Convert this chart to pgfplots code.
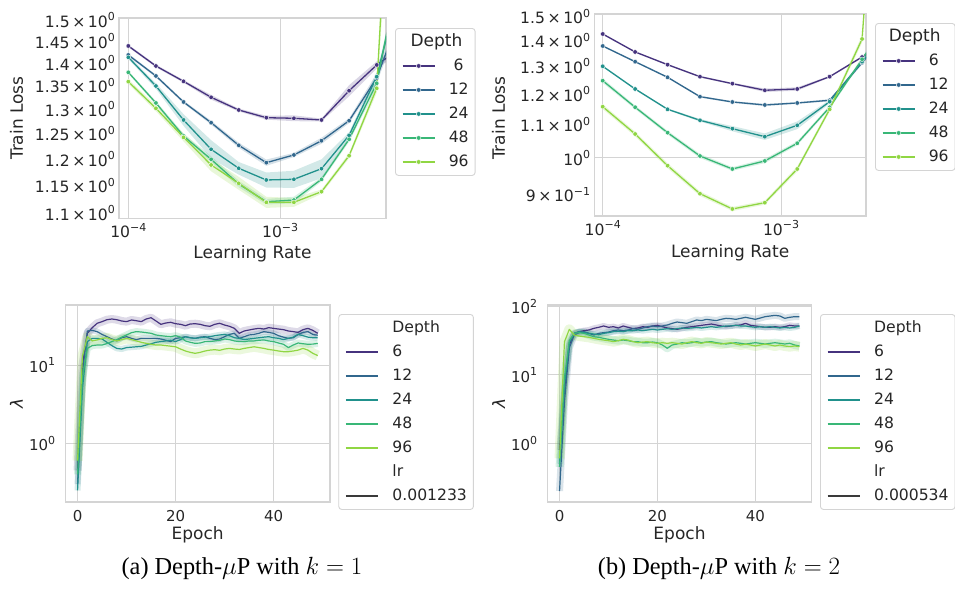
\documentclass[border=0pt]{standalone}
\usepackage{fontspec}
\setmainfont{DejaVu Sans}
\newfontfamily\capfont{Liberation Serif}
\usepackage{pgfplots}
\pgfplotsset{compat=1.18}
\usepackage{pgfplotstable}
\usepgfplotslibrary{fillbetween}

\definecolor{vA}{HTML}{46337E}
\definecolor{vB}{HTML}{31678D}
\definecolor{vC}{HTML}{21918C}
\definecolor{vD}{HTML}{39B777}
\definecolor{vE}{HTML}{90D643}
\definecolor{gridc}{HTML}{D4D4D4}
\definecolor{txt}{HTML}{262626}
\definecolor{lrc}{HTML}{3A3A3A}

\newcommand\tickfont{\fontsize{15.6}{18}\selectfont}
\newcommand\btickfont{\fontsize{15}{18}\selectfont}
\newcommand\labfont{\fontsize{17}{20}\selectfont}
\newcommand\legfont{\fontsize{15.6}{18}\selectfont}
\newcommand\titfont{\fontsize{17}{20}\selectfont}
\newcommand\sups[1]{\raisebox{0.42em}{\fontsize{11}{11}\selectfont #1}}

\pgfplotsset{
  sns/.style={
    scale only axis,
    axis line style={gridc, line width=1.2pt},
    major grid style={gridc, line width=1.0pt},
    major tick length=0pt, minor tick length=0pt,
    tick style={draw=none},
    tick label style={text=txt, inner sep=0pt},
    label style={text=txt, font=\labfont},
    legend style={draw=gridc, line width=0.9pt, rounded corners=3pt, fill=white,
      text=txt, font=\legfont, inner xsep=6.5pt, inner ysep=6pt,
      row sep=9pt, column sep=13.5pt,
      nodes={inner sep=0pt, text height=12.5pt, text depth=2.5pt}},
    legend image code/.code={\draw[mark repeat=2,mark phase=2,##1] plot coordinates {(0pt,0pt) (16pt,0pt) (32pt,0pt)};},
  },
  lineleg/.style={
    legend image code/.code={\draw[##1] (0pt,0pt) -- (32pt,0pt);},
  },
  topl/.style={color=#1, line width=1.3pt, mark=*, mark size=2.3pt,
    mark options={fill=#1, draw=white, line width=0.4pt, solid}},
  botl/.style={color=#1, line width=1.2pt, line join=round},
  band/.style={color=#1, line width=6pt, opacity=0.18, line join=round, forget plot},
}

% ---------- top left: train loss, k = 1 ----------
\pgfplotstableread{
x y lo hi
1.0e-4 1.4387 1.4357 1.4417
1.5199e-4 1.3931 1.3901 1.3961
2.3101e-4 1.3592 1.3562 1.3622
3.5112e-4 1.3247 1.3197 1.3297
5.3367e-4 1.2980 1.2950 1.3010
8.1113e-4 1.2820 1.2780 1.2860
1.23285e-3 1.2808 1.2748 1.2868
1.87382e-3 1.2773 1.2743 1.2803
2.84804e-3 1.3389 1.3269 1.3509
4.32876e-3 1.3954 1.3874 1.4034
6.57933e-3 1.4400 1.4300 1.4500
}\tlA
\pgfplotstableread{
x y lo hi
1.0e-4 1.4180 1.4150 1.4210
1.5199e-4 1.3709 1.3679 1.3739
2.3101e-4 1.3148 1.3118 1.3178
3.5112e-4 1.2718 1.2678 1.2758
5.3367e-4 1.2264 1.2214 1.2314
8.1113e-4 1.1926 1.1866 1.1986
1.23285e-3 1.2075 1.2035 1.2115
1.87382e-3 1.2354 1.2294 1.2414
2.84804e-3 1.2758 1.2708 1.2808
4.32876e-3 1.3666 1.3566 1.3766
6.57933e-3 1.5390 1.5190 1.5590
}\tlB
\pgfplotstableread{
x y lo hi
1.0e-4 1.4127 1.4087 1.4167
1.5199e-4 1.3490 1.3430 1.3550
2.3101e-4 1.2773 1.2653 1.2893
3.5112e-4 1.2185 1.2005 1.2365
5.3367e-4 1.1819 1.1699 1.1939
8.1113e-4 1.1599 1.1459 1.1739
1.23285e-3 1.1612 1.1452 1.1772
1.87382e-3 1.1811 1.1631 1.1991
2.84804e-3 1.2462 1.2402 1.2522
4.32876e-3 1.3693 1.3593 1.3793
6.57933e-3 1.6340 1.6140 1.6540
}\tlC
\pgfplotstableread{
x y lo hi
1.0e-4 1.3790 1.3760 1.3820
1.5199e-4 1.3127 1.3087 1.3167
2.3101e-4 1.2448 1.2398 1.2498
3.5112e-4 1.1990 1.1930 1.2050
5.3367e-4 1.1524 1.1464 1.1584
8.1113e-4 1.1201 1.1151 1.1251
1.23285e-3 1.1231 1.1171 1.1291
1.87382e-3 1.1612 1.1572 1.1652
2.84804e-3 1.2383 1.2333 1.2433
4.32876e-3 1.3549 1.3449 1.3649
6.57933e-3 1.6900 1.6700 1.7100
}\tlD
\pgfplotstableread{
x y lo hi
1.0e-4 1.3584 1.3534 1.3634
1.5199e-4 1.3015 1.2955 1.3075
2.3101e-4 1.2422 1.2342 1.2502
3.5112e-4 1.1882 1.1762 1.2002
5.3367e-4 1.1537 1.1417 1.1657
8.1113e-4 1.1190 1.1090 1.1290
1.23285e-3 1.1190 1.1110 1.1270
1.87382e-3 1.1383 1.1343 1.1423
2.84804e-3 1.2060 1.2010 1.2110
4.32876e-3 1.3441 1.3341 1.3541
6.57933e-3 3.0000 2.5000 3.5000
}\tlE

% ---------- top right: train loss, k = 2 ----------
\pgfplotstableread{
x y lo hi
1.0e-4 1.4260 1.4230 1.4290
1.5199e-4 1.3545 1.3515 1.3575
2.3101e-4 1.3061 1.3031 1.3091
3.5112e-4 1.2620 1.2590 1.2650
5.3367e-4 1.2370 1.2340 1.2400
8.1113e-4 1.2138 1.2078 1.2198
1.23285e-3 1.2183 1.2123 1.2243
1.87382e-3 1.2620 1.2590 1.2650
2.84804e-3 1.3350 1.3310 1.3390
4.32876e-3 1.4150 1.4050 1.4250
}\trA
\pgfplotstableread{
x y lo hi
1.0e-4 1.3778 1.3748 1.3808
1.5199e-4 1.3173 1.3143 1.3203
2.3101e-4 1.2598 1.2568 1.2628
3.5112e-4 1.1918 1.1888 1.1948
5.3367e-4 1.1738 1.1708 1.1768
8.1113e-4 1.1638 1.1598 1.1678
1.23285e-3 1.1705 1.1675 1.1735
1.87382e-3 1.1796 1.1756 1.1836
2.84804e-3 1.3136 1.3066 1.3206
4.32876e-3 1.4630 1.4530 1.4730
}\trB
\pgfplotstableread{
x y lo hi
1.0e-4 1.3001 1.2971 1.3031
1.5199e-4 1.2183 1.2153 1.2213
2.3101e-4 1.1496 1.1466 1.1526
3.5112e-4 1.1139 1.1099 1.1179
5.3367e-4 1.0875 1.0795 1.0955
8.1113e-4 1.0629 1.0529 1.0729
1.23285e-3 1.0981 1.0861 1.1101
1.87382e-3 1.1748 1.1688 1.1808
2.84804e-3 1.3173 1.3103 1.3243
4.32876e-3 1.4770 1.4670 1.4870
}\trC
\pgfplotstableread{
x y lo hi
1.0e-4 1.2476 1.2396 1.2556
1.5199e-4 1.1562 1.1502 1.1622
2.3101e-4 1.0751 1.0691 1.0811
3.5112e-4 1.0057 0.9997 1.0117
5.3367e-4 0.9690 0.9640 0.9740
8.1113e-4 0.9915 0.9855 0.9975
1.23285e-3 1.0430 1.0370 1.0490
1.87382e-3 1.1562 1.1502 1.1622
2.84804e-3 1.3265 1.3185 1.3345
4.32876e-3 1.5220 1.5100 1.5340
}\trD
\pgfplotstableread{
x y lo hi
1.0e-4 1.1581 1.1501 1.1661
1.5199e-4 1.0711 1.0641 1.0781
2.3101e-4 0.9782 0.9712 0.9852
3.5112e-4 0.9029 0.8969 0.9089
5.3367e-4 0.8642 0.8592 0.8692
8.1113e-4 0.8799 0.8749 0.8849
1.23285e-3 0.9690 0.9620 0.9760
1.87382e-3 1.1496 1.1416 1.1576
2.84804e-3 1.4058 1.3908 1.4208
4.32876e-3 5.0000 4.5000 5.5000
}\trE

% ---------- bottom left: lambda, k = 1, lr = 0.001233 ----------
\pgfplotstableread{
e d6 d12 d24 d48 d96
0 0.45 0.30 0.25 0.40 0.60
1 10.0 8.0 5.0 7.0 13.0
2 25.4 27.2 19.9 16.3 23.0
3 30.0 27.7 21.9 17.7 20.3
4 34.1 26.7 21.9 18.0 20.9
5 35.8 24.6 21.5 18.0 21.9
6 37.9 23.0 19.5 18.8 22.3
7 38.7 21.5 17.7 19.9 21.1
8 37.9 20.3 16.3 21.1 20.3
9 36.5 22.3 16.0 22.7 21.1
10 35.8 23.0 16.7 24.2 21.9
11 37.6 21.9 16.9 25.9 21.1
12 36.8 21.1 17.1 26.7 20.3
13 35.8 21.9 17.3 26.4 19.5
14 38.7 21.9 18.0 25.9 18.9
15 40.2 21.9 18.7 25.4 18.4
16 36.5 21.9 19.5 24.2 18.0
17 33.1 21.5 19.9 23.7 18.0
18 34.4 20.7 20.3 23.3 17.7
19 35.1 19.9 20.7 23.0 17.4
20 33.7 21.9 19.9 23.7 17.1
21 33.1 22.3 21.1 22.7 16.0
22 31.8 23.0 23.0 20.3 15.1
23 33.4 22.3 22.3 19.5 14.5
24 33.7 21.9 21.9 18.9 14.1
25 33.1 22.7 22.3 19.1 14.5
26 31.8 23.0 22.7 19.9 15.1
27 31.2 21.9 23.0 19.9 15.5
28 33.1 21.1 23.7 20.3 15.7
29 34.1 21.5 24.2 20.7 15.4
30 32.4 23.0 24.6 21.5 16.0
31 31.2 24.6 23.7 21.1 16.3
32 29.4 25.4 22.3 20.3 16.0
33 25.4 21.9 21.9 19.9 15.8
34 27.2 23.0 21.1 19.9 16.3
35 28.0 24.2 21.5 20.3 16.7
36 28.8 24.6 21.9 20.3 17.1
37 29.4 25.4 22.3 20.7 16.7
38 28.8 26.7 22.7 20.9 16.3
39 30.0 26.1 23.0 20.3 15.8
40 29.4 25.4 22.3 19.9 15.5
41 28.8 23.7 21.9 19.1 15.1
42 28.3 22.7 21.1 18.4 14.8
43 27.2 21.9 21.9 16.7 14.8
44 26.7 22.3 22.7 18.0 15.1
45 26.1 24.6 24.6 19.1 15.5
46 28.3 26.1 23.7 18.7 16.3
47 29.4 26.7 22.7 18.4 15.5
48 27.7 24.6 22.3 18.5 14.1
49 25.4 24.0 22.3 18.9 13.2
}\bl

% ---------- bottom right: lambda, k = 2, lr = 0.000534 ----------
\pgfplotstableread{
e d6 d12 d24 d48 d96
0 0.80 0.20 0.50 0.45 0.60
1 6.0 4.0 7.0 9.0 30.7
2 28.0 25.0 30.0 32.0 46.6
3 40.7 38.5 40.7 40.7 38.5
4 43.1 41.7 43.1 41.7 37.2
5 44.6 43.1 41.7 40.7 36.4
6 45.6 40.7 40.7 38.5 35.6
7 48.2 38.5 39.8 36.4 34.4
8 49.9 40.7 38.9 35.6 33.3
9 52.2 41.7 40.7 34.4 32.5
10 49.9 42.6 41.7 33.3 31.8
11 51.0 44.6 43.1 32.5 30.8
12 48.8 45.6 43.6 31.8 31.8
13 52.2 44.6 43.1 32.5 33.3
14 49.9 45.6 44.6 31.8 32.5
15 47.7 47.7 44.6 30.8 30.8
16 48.8 46.6 45.6 30.8 29.7
17 51.0 48.8 44.6 29.7 30.4
18 49.9 51.0 45.6 29.7 30.8
19 52.2 52.2 46.6 30.4 29.7
20 53.4 51.0 45.6 29.7 29.1
21 51.0 52.2 46.6 27.5 29.7
22 48.8 54.0 47.7 24.6 29.1
23 47.7 57.1 46.6 27.5 29.7
24 46.6 59.7 47.7 28.4 29.1
25 48.2 58.4 48.8 29.7 28.4
26 49.9 57.1 48.2 29.1 29.7
27 51.0 60.4 48.8 29.7 30.8
28 52.2 63.9 49.9 30.8 29.7
29 53.4 62.5 48.8 29.7 29.1
30 54.6 65.3 49.9 30.4 30.4
31 55.8 63.9 51.0 30.8 29.7
32 54.0 62.5 49.9 29.7 29.1
33 52.2 65.3 51.0 29.1 28.4
34 51.0 67.6 52.2 28.4 29.1
35 52.2 66.8 52.2 29.1 29.7
36 53.4 65.3 53.4 29.7 28.4
37 54.0 67.6 52.2 29.1 27.5
38 57.1 69.9 52.2 28.4 28.4
39 53.4 67.6 51.0 29.1 27.5
40 52.2 65.3 49.9 29.7 26.6
41 51.0 68.3 51.0 29.1 27.5
42 49.9 71.5 49.9 28.4 28.4
43 49.9 73.1 51.0 29.1 27.5
44 51.0 74.7 49.9 29.7 26.6
45 49.9 73.1 48.8 29.1 27.5
46 51.0 67.6 49.9 28.4 26.6
47 53.4 69.9 48.8 29.1 26.0
48 52.2 71.5 49.9 27.5 26.6
49 52.2 71.5 52.2 26.6 26.0
}\br

\begin{document}
\begin{tikzpicture}

% ================= TOP LEFT =================
\begin{axis}[sns,
  at={(119pt,-18pt)}, anchor=north west, width=267pt, height=200.3pt,
  xmode=log, ymode=log,
  xmin=8.68e-5, xmax=4.984e-3, ymin=1.0906, ymax=1.5048,
  xtick={1e-4,1e-3}, xticklabels={10\sups{−4},10\sups{−3}},
  ytick={1.1,1.15,1.2,1.25,1.3,1.35,1.4,1.45,1.5},
  yticklabels={1.1\,×\,10\sups{0},1.15\,×\,10\sups{0},1.2\,×\,10\sups{0},1.25\,×\,10\sups{0},1.3\,×\,10\sups{0},1.35\,×\,10\sups{0},1.4\,×\,10\sups{0},1.45\,×\,10\sups{0},1.5\,×\,10\sups{0}},
  xmajorgrids, ymajorgrids=false,
  tick label style={font=\tickfont},
  xticklabel style={anchor=base, yshift=-19.5pt},
  yticklabel style={anchor=east, xshift=-4pt},
  xlabel={Learning Rate}, ylabel={Train Loss},
  xlabel style={at={(axis description cs:0.5,0)}, anchor=base, yshift=-40pt},
  ylabel style={at={(axis description cs:-0.3596,0.5)}, anchor=base},
  legend style={at={(1,1)}, anchor=north west, xshift=9pt, yshift=-10pt},
  legend cell align=center,
]
\addplot[draw=none, forget plot, name path=tlAlo] table[x=x,y=lo]{\tlA};
\addplot[draw=none, forget plot, name path=tlAhi] table[x=x,y=hi]{\tlA};
\addplot[fill=vA, fill opacity=0.2, draw=none, forget plot] fill between[of=tlAlo and tlAhi];
\addplot[draw=none, forget plot, name path=tlBlo] table[x=x,y=lo]{\tlB};
\addplot[draw=none, forget plot, name path=tlBhi] table[x=x,y=hi]{\tlB};
\addplot[fill=vB, fill opacity=0.2, draw=none, forget plot] fill between[of=tlBlo and tlBhi];
\addplot[draw=none, forget plot, name path=tlClo] table[x=x,y=lo]{\tlC};
\addplot[draw=none, forget plot, name path=tlChi] table[x=x,y=hi]{\tlC};
\addplot[fill=vC, fill opacity=0.2, draw=none, forget plot] fill between[of=tlClo and tlChi];
\addplot[draw=none, forget plot, name path=tlDlo] table[x=x,y=lo]{\tlD};
\addplot[draw=none, forget plot, name path=tlDhi] table[x=x,y=hi]{\tlD};
\addplot[fill=vD, fill opacity=0.2, draw=none, forget plot] fill between[of=tlDlo and tlDhi];
\addplot[draw=none, forget plot, name path=tlElo] table[x=x,y=lo]{\tlE};
\addplot[draw=none, forget plot, name path=tlEhi] table[x=x,y=hi]{\tlE};
\addplot[fill=vE, fill opacity=0.2, draw=none, forget plot] fill between[of=tlElo and tlEhi];
\addlegendimage{empty legend}
\addlegendentry{\titfont\makebox[0pt][c]{\hspace*{-44.4pt}Depth}}
\addplot[topl=vA] table[x=x,y=y]{\tlA}; \addlegendentry{6}
\addplot[topl=vB] table[x=x,y=y]{\tlB}; \addlegendentry{12}
\addplot[topl=vC] table[x=x,y=y]{\tlC}; \addlegendentry{24}
\addplot[topl=vD] table[x=x,y=y]{\tlD}; \addlegendentry{48}
\addplot[topl=vE] table[x=x,y=y]{\tlE}; \addlegendentry{96}
\end{axis}

% ================= TOP RIGHT =================
\begin{axis}[sns,
  at={(594.3pt,-14pt)}, anchor=north west, width=271.7pt, height=202pt,
  xmode=log, ymode=log,
  xmin=8.97e-5, xmax=2.996e-3, ymin=0.847, ymax=1.510,
  xtick={1e-4,1e-3}, xticklabels={10\sups{−4},10\sups{−3}},
  ytick={0.9,1.1,1.2,1.3,1.4,1.5},
  yticklabels={9\,×\,10\sups{−1},1.1\,×\,10\sups{0},1.2\,×\,10\sups{0},1.3\,×\,10\sups{0},1.4\,×\,10\sups{0},1.5\,×\,10\sups{0}},
  extra y ticks={1}, extra y tick labels={10\sups{0}},
  extra y tick style={grid=major},
  xmajorgrids, ymajorgrids=false,
  tick label style={font=\tickfont},
  xticklabel style={anchor=base, yshift=-19pt},
  yticklabel style={anchor=east, xshift=-4pt},
  xlabel={Learning Rate}, ylabel={Train Loss},
  xlabel style={at={(axis description cs:0.5,0)}, anchor=base, yshift=-41.3pt},
  ylabel style={at={(axis description cs:-0.3287,0.484)}, anchor=base},
  legend style={at={(1,1)}, anchor=north west, xshift=9pt, yshift=-9pt},
  legend cell align=left,
]
\addplot[draw=none, forget plot, name path=trAlo] table[x=x,y=lo]{\trA};
\addplot[draw=none, forget plot, name path=trAhi] table[x=x,y=hi]{\trA};
\addplot[fill=vA, fill opacity=0.2, draw=none, forget plot] fill between[of=trAlo and trAhi];
\addplot[draw=none, forget plot, name path=trBlo] table[x=x,y=lo]{\trB};
\addplot[draw=none, forget plot, name path=trBhi] table[x=x,y=hi]{\trB};
\addplot[fill=vB, fill opacity=0.2, draw=none, forget plot] fill between[of=trBlo and trBhi];
\addplot[draw=none, forget plot, name path=trClo] table[x=x,y=lo]{\trC};
\addplot[draw=none, forget plot, name path=trChi] table[x=x,y=hi]{\trC};
\addplot[fill=vC, fill opacity=0.2, draw=none, forget plot] fill between[of=trClo and trChi];
\addplot[draw=none, forget plot, name path=trDlo] table[x=x,y=lo]{\trD};
\addplot[draw=none, forget plot, name path=trDhi] table[x=x,y=hi]{\trD};
\addplot[fill=vD, fill opacity=0.2, draw=none, forget plot] fill between[of=trDlo and trDhi];
\addplot[draw=none, forget plot, name path=trElo] table[x=x,y=lo]{\trE};
\addplot[draw=none, forget plot, name path=trEhi] table[x=x,y=hi]{\trE};
\addplot[fill=vE, fill opacity=0.2, draw=none, forget plot] fill between[of=trElo and trEhi];
\addlegendimage{empty legend}
\addlegendentry{\titfont\hspace*{-40pt}Depth}
\addplot[topl=vA] table[x=x,y=y]{\trA}; \addlegendentry{6}
\addplot[topl=vB] table[x=x,y=y]{\trB}; \addlegendentry{12}
\addplot[topl=vC] table[x=x,y=y]{\trC}; \addlegendentry{24}
\addplot[topl=vD] table[x=x,y=y]{\trD}; \addlegendentry{48}
\addplot[topl=vE] table[x=x,y=y]{\trE}; \addlegendentry{96}
\end{axis}

% ================= BOTTOM LEFT =================
\begin{axis}[sns, lineleg,
  at={(65.3pt,-305pt)}, anchor=north west, width=264.7pt, height=197pt,
  ymode=log,
  xmin=-2.5, xmax=51.5, ymin=0.178, ymax=58.4,
  xtick={0,20,40}, xticklabels={0,20,40},
  ytick={1,10}, yticklabels={10\sups{0},10\sups{1}},
  xmajorgrids, ymajorgrids,
  tick label style={font=\btickfont},
  xticklabel style={anchor=base, yshift=-19.7pt},
  yticklabel style={anchor=east, xshift=-10pt},
  xlabel={Epoch}, ylabel={\textit{λ}},
  xlabel style={at={(axis description cs:0.5,0)}, anchor=base, yshift=-37.7pt},
  ylabel style={at={(axis description cs:-0.16,0.5)}, anchor=base},
  legend style={at={(1,1)}, anchor=north west, xshift=8.3pt, yshift=-9pt, column sep=14pt},
  legend cell align=left,
]
\addplot[band=vA, line width=8pt] table[x=e,y=d6]{\bl};
\addplot[band=vB] table[x=e,y=d12]{\bl};
\addplot[band=vC] table[x=e,y=d24]{\bl};
\addplot[band=vD, line width=7pt] table[x=e,y=d48]{\bl};
\addplot[band=vE, line width=10pt] table[x=e,y=d96]{\bl};
\addlegendimage{empty legend}\addlegendentry{Depth}
\addplot[botl=vA] table[x=e,y=d6]{\bl}; \addlegendentry{6}
\addplot[botl=vB] table[x=e,y=d12]{\bl}; \addlegendentry{12}
\addplot[botl=vC] table[x=e,y=d24]{\bl}; \addlegendentry{24}
\addplot[botl=vD] table[x=e,y=d48]{\bl}; \addlegendentry{48}
\addplot[botl=vE] table[x=e,y=d96]{\bl}; \addlegendentry{96}
\addlegendimage{empty legend}\addlegendentry{lr}
\addlegendimage{color=lrc, line width=1.2pt}\addlegendentry{0.001233}
\end{axis}

% ================= BOTTOM RIGHT =================
\begin{axis}[sns, lineleg,
  at={(547.3pt,-305pt)}, anchor=north west, width=264.4pt, height=197pt,
  ymode=log,
  xmin=-2.5, xmax=51.5, ymin=0.138, ymax=105.9,
  xtick={0,20,40}, xticklabels={0,20,40},
  ytick={1,10,100}, yticklabels={10\sups{0},10\sups{1},10\sups{2}},
  xmajorgrids, ymajorgrids,
  tick label style={font=\btickfont},
  xticklabel style={anchor=base, yshift=-19.7pt},
  yticklabel style={anchor=east, xshift=-10pt},
  xlabel={Epoch}, ylabel={\textit{λ}},
  xlabel style={at={(axis description cs:0.5,0)}, anchor=base, yshift=-37.7pt},
  ylabel style={at={(axis description cs:-0.16,0.5)}, anchor=base},
  legend style={at={(1,1)}, anchor=north west, xshift=8.3pt, yshift=-9pt, column sep=14pt},
  legend cell align=left,
]
\addplot[band=vA] table[x=e,y=d6]{\br};
\addplot[band=vB, line width=7pt] table[x=e,y=d12]{\br};
\addplot[band=vC] table[x=e,y=d24]{\br};
\addplot[band=vD, line width=8pt] table[x=e,y=d48]{\br};
\addplot[band=vE, line width=10pt] table[x=e,y=d96]{\br};
\addlegendimage{empty legend}\addlegendentry{Depth}
\addplot[botl=vA] table[x=e,y=d6]{\br}; \addlegendentry{6}
\addplot[botl=vB] table[x=e,y=d12]{\br}; \addlegendentry{12}
\addplot[botl=vC] table[x=e,y=d24]{\br}; \addlegendentry{24}
\addplot[botl=vD] table[x=e,y=d48]{\br}; \addlegendentry{48}
\addplot[botl=vE] table[x=e,y=d96]{\br}; \addlegendentry{96}
\addlegendimage{empty legend}\addlegendentry{lr}
\addlegendimage{color=lrc, line width=1.2pt}\addlegendentry{0.000534}
\end{axis}

% ================= CAPTIONS =================
\node[font=\capfont\fontsize{24.3}{28}\selectfont, text=black] at (242pt,-568.5pt) {(a) Depth-$\mu$P with $k=1$};
\node[font=\capfont\fontsize{24.3}{28}\selectfont, text=black] at (719pt,-568.5pt) {(b) Depth-$\mu$P with $k=2$};

\pgfresetboundingbox
\useasboundingbox (0pt,0pt) rectangle (955pt,-589pt);
\end{tikzpicture}
\end{document}
